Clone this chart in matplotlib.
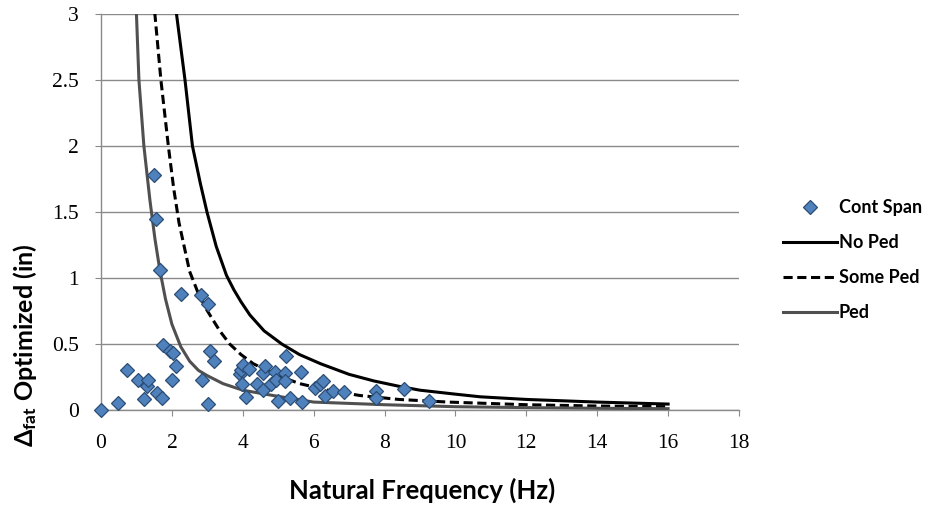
import matplotlib
matplotlib.use("Agg")
import matplotlib.pyplot as plt
from matplotlib.lines import Line2D

# ---- data ----
span_freq = [0, 0.49, 0.72, 1.03, 1.22, 1.29, 1.33, 1.50, 1.55, 1.59, 1.66, 1.71, 1.74,
             1.95, 2.02, 1.99, 2.13, 2.25, 2.81, 2.84, 3.02, 3.02, 3.07, 3.20, 3.92,
             3.96, 3.99, 4.01, 4.10, 4.18, 4.40, 4.57, 4.57, 4.62, 4.81, 4.90, 4.95,
             4.99, 5.18, 5.18, 5.23, 5.32, 5.65, 5.67, 6.03, 6.17, 6.26, 6.31, 6.55,
             6.86, 7.77, 7.77, 8.56, 9.26]
span_defl = [0, 0.055, 0.30, 0.23, 0.085, 0.18, 0.23, 1.78, 1.45, 0.13, 1.06, 0.09, 0.49,
             0.45, 0.43, 0.23, 0.33, 0.88, 0.87, 0.23, 0.80, 0.045, 0.45, 0.37, 0.27,
             0.30, 0.20, 0.34, 0.10, 0.31, 0.20, 0.28, 0.15, 0.33, 0.20, 0.29, 0.23,
             0.07, 0.28, 0.22, 0.41, 0.09, 0.29, 0.063, 0.165, 0.20, 0.22, 0.105, 0.146,
             0.14, 0.146, 0.09, 0.157, 0.066]

noped_freq = [2.0, 2.13, 2.37, 2.58, 2.8, 2.99, 3.25, 3.54, 3.75, 3.95, 4.2, 4.6, 5.1, 5.6,
              6.2, 7.0, 7.7, 8.4, 9.0, 10.0, 10.7, 12.0, 14.0, 16.0]
noped_defl = [3.5, 3.0, 2.5, 2.0, 1.72, 1.5, 1.24, 1.02, 0.91, 0.82, 0.72, 0.6, 0.5, 0.42,
              0.35, 0.27, 0.22, 0.18, 0.15, 0.12, 0.10, 0.08, 0.06, 0.045]

someped_freq = [1.45, 1.52, 1.69, 1.90, 2.05, 2.2, 2.5, 2.75, 2.98, 3.35, 3.63, 3.95, 4.3,
                5.0, 5.6, 6.4, 7.3, 8.4, 9.8, 12.0, 14.0, 16.0]
someped_defl = [3.4, 3.0, 2.5, 2.0, 1.68, 1.42, 1.05, 0.88, 0.76, 0.60, 0.50, 0.42, 0.35,
                0.26, 0.20, 0.15, 0.11, 0.08, 0.06, 0.04, 0.03, 0.025]

ped_freq = [0.95, 1.0, 1.07, 1.21, 1.38, 1.52, 1.66, 1.82, 2.0, 2.25, 2.5, 2.75, 3.0, 3.44,
            4.0, 4.85, 6.0, 8.0, 10.0, 12.0, 14.0, 16.0]
ped_defl = [3.4, 3.0, 2.5, 2.0, 1.59, 1.3, 1.06, 0.84, 0.65, 0.48, 0.37, 0.30, 0.26, 0.20,
            0.15, 0.11, 0.06, 0.04, 0.025, 0.018, 0.013, 0.01]

x_ticks = [0, 2, 4, 6, 8, 10, 12, 14, 16, 18]
y_ticks = [0, 0.5, 1, 1.5, 2, 2.5, 3]
y_tick_labels = ["0", "0.5", "1", "1.5", "2", "2.5", "3"]
legend_labels = ["Cont Span", "No Ped", "Some Ped", "Ped"]

plt.rcParams['mathtext.fontset'] = 'custom'
plt.rcParams['mathtext.rm'] = 'Lato:bold'
plt.rcParams['mathtext.it'] = 'Lato:bold'
plt.rcParams['mathtext.bf'] = 'Lato:bold'

W, H = 934, 508
fig = plt.figure(figsize=(W / 100, H / 100), dpi=100)
ax = fig.add_axes([101 / W, 1 - 410 / H, (739 - 101) / W, (410 - 14) / H])

grid_c = "#8a8a8a"
ax.set_xlim(0, 18)
ax.set_ylim(0, 3)
ax.set_yticks(y_ticks)
ax.set_yticklabels(y_tick_labels)
ax.set_xticks(x_ticks)
ax.yaxis.grid(True, color=grid_c, linewidth=1.0)
ax.set_axisbelow(True)
for s in ["top", "right"]:
    ax.spines[s].set_visible(False)
for s in ["left", "bottom"]:
    ax.spines[s].set_color(grid_c)
    ax.spines[s].set_linewidth(1.0)
ax.tick_params(axis='y', length=4, color=grid_c, pad=12, labelsize=15.5)
ax.tick_params(axis='x', length=4, color=grid_c, pad=13, labelsize=15.5)
for lab in ax.get_xticklabels() + ax.get_yticklabels():
    lab.set_family("Liberation Serif")

dash = (0, (3, 1.5))
ax.plot(noped_freq, noped_defl, color="black", lw=2.2, zorder=3)
ax.plot(someped_freq, someped_defl, color="black", lw=2.2, ls=dash, zorder=3)
ax.plot(ped_freq, ped_defl, color="#505050", lw=2.2, zorder=3)
ax.plot(span_freq, span_defl, ls="none", marker="D", markersize=7.5, markerfacecolor="#4f81bd",
        markeredgecolor="#2c4d75", markeredgewidth=0.9, zorder=4, clip_on=False)

handles = [
    Line2D([], [], ls="none", marker="D", markersize=7, markerfacecolor="#4f81bd",
           markeredgecolor="#2c4d75", markeredgewidth=0.9),
    Line2D([], [], color="black", lw=2.2),
    Line2D([], [], color="black", lw=2.2, ls=dash),
    Line2D([], [], color="#505050", lw=2.2),
]
leg = fig.legend(handles, legend_labels, loc="center left", bbox_to_anchor=(783 / W, 1 - 260 / H),
                 frameon=False, handlelength=3.0, handletextpad=0.08, labelspacing=1.0,
                 borderpad=0, borderaxespad=0,
                 prop={"family": "Lato", "weight": "bold", "size": 13})

fig.text(422 / W, 1 - 490 / H, "Natural Frequency (Hz)", ha="center", va="center",
         family="Lato", weight="bold", fontsize=18.5)
fig.text(25 / W, 1 - 345 / H, r"$\Delta_{\rm fat}$ Optimized (in)", ha="center", va="center",
         rotation=90, family="Lato", weight="bold", fontsize=18)

fig.savefig("out.png", dpi=100)
